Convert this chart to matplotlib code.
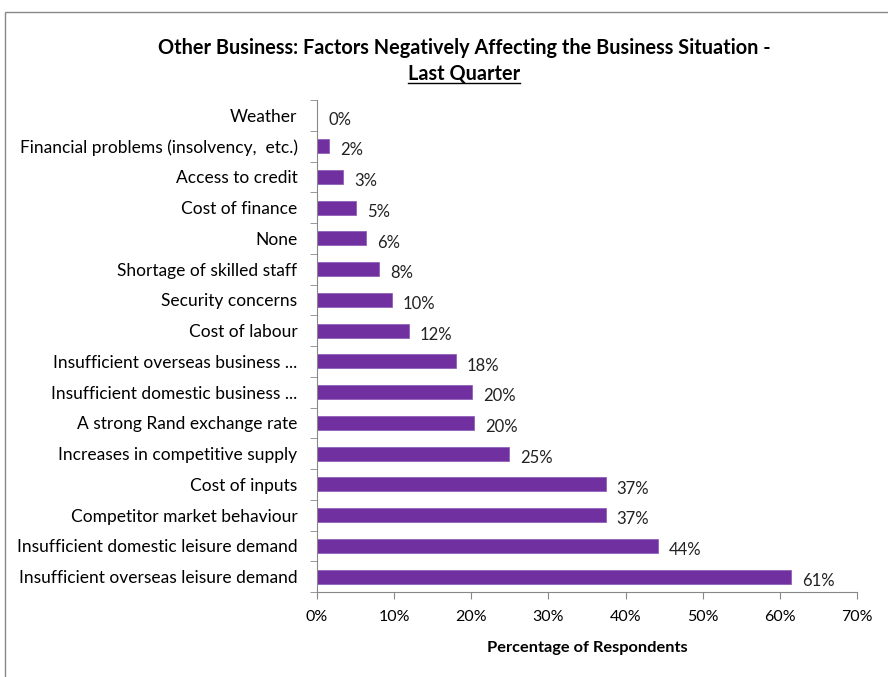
import matplotlib.pyplot as plt
from matplotlib.patches import Rectangle
from matplotlib.lines import Line2D
import numpy as np

# categories top to bottom
categories = [
    'Weather',
    'Financial problems (insolvency,  etc.)',
    'Access to credit',
    'Cost of finance',
    'None',
    'Shortage of skilled staff',
    'Security concerns',
    'Cost of labour',
    'Insufficient overseas business ...',
    'Insufficient domestic business ...',
    'A strong Rand exchange rate',
    'Increases in competitive supply',
    'Cost of inputs',
    'Competitor market behaviour',
    'Insufficient domestic leisure demand',
    'Insufficient overseas leisure demand',
]
values = [0, 1.6, 3.4, 5.0, 6.4, 8.1, 9.7, 11.9, 18.0, 20.1, 20.4, 24.9, 37.4, 37.4, 44.2, 61.4]
x_ticks = [0, 10, 20, 30, 40, 50, 60, 70]

bar_color = '#7030A0'
font = ['Lato', 'DejaVu Sans']
plt.rcParams['font.family'] = font

fig = plt.figure(figsize=(8.88, 6.77), dpi=100)
W, H = 888, 677

# outer chart frame
fig.patches.append(Rectangle((5 / W, -0.1), 1.2, 1 - 12 / H + 0.1, transform=fig.transFigure,
                             fill=False, edgecolor='#888888', linewidth=1.0))

ax = fig.add_axes([317 / W, 1 - 592 / H, 540 / W, 492 / H])
y = np.arange(len(categories))
ax.barh(y, values, height=0.45, color=bar_color, edgecolor='#8a55b5', linewidth=0.5)
ax.set_ylim(len(categories) - 0.5, -0.5)
ax.set_xlim(0, 70)

for yi, v in zip(y, values):
    ax.annotate(f'{round(v):.0f}%', (v, yi), xytext=(8, -3), textcoords='offset points',
                ha='left', va='center', fontsize=12, color='#222222')

ax.set_xticks(x_ticks)
ax.set_xticklabels([f'{t}%' for t in x_ticks], fontsize=11.5)
ax.set_yticks(y)
ax.set_yticklabels(categories, fontsize=12.5)
ax.set_yticks(np.arange(len(categories) + 1) - 0.5, minor=True)
ax.tick_params(axis='y', which='major', length=0, pad=14)
ax.tick_params(axis='y', which='minor', length=5, color='#888888', direction='out')
ax.tick_params(axis='x', length=5, color='#888888', direction='out', pad=8)
for s in ['top', 'right']:
    ax.spines[s].set_visible(False)
for s in ['left', 'bottom']:
    ax.spines[s].set_color('#888888')

ax.set_xlabel('Percentage of Respondents', fontsize=11.8, fontweight='bold', labelpad=12)

fig.text(464 / W, 1 - 48 / H, 'Other Business: Factors Negatively Affecting the Business Situation -',
         ha='center', va='center', fontsize=14.3, fontweight='bold')
t2 = fig.text(464 / W, 1 - 74 / H, 'Last Quarter', ha='center', va='center',
              fontsize=14.3, fontweight='bold')

# underline the second title line
fig.canvas.draw()
bb = t2.get_window_extent().transformed(fig.transFigure.inverted())
fig.lines.append(Line2D([bb.x0, bb.x1], [bb.y0 + 0.002, bb.y0 + 0.002], transform=fig.transFigure,
                        color='black', linewidth=1.0))

fig.savefig('out.png', dpi=100)
